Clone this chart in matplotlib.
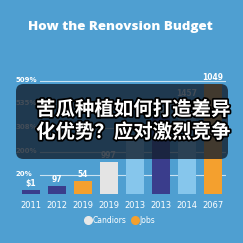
import matplotlib
matplotlib.use("Agg")
import matplotlib.pyplot as plt
from matplotlib.patches import FancyBboxPatch
from matplotlib.lines import Line2D
import matplotlib.patheffects as pe

# ---- data ----
categories = ["2011", "2012", "2019", "2019", "2013", "2013", "2014", "2067"]
values = [4, 8, 13, 32, 60, 77, 94, 110]
value_labels = ["$1", "97", "54", "997", "", "62", "1457", "1049"]
bar_colors = ["#3a3d8c", "#3a3d8c", "#f4a02e", "#e4e4e4", "#86c6ec", "#3a3d8c", "#86c6ec", "#f4a02e"]
grid_values = [19, 42, 66, 90, 113]
grid_labels = ["20%", "200%", "308%", "535%", "509%"]
legend_labels = ["Candiors", "Jobs"]
legend_colors = ["#e8e8e8", "#f4a02e"]
title = "How the Renovsion Budget"
overlay_text = "苦瓜种植如何打造差异\n化优势？应对激烈竞争"

BG = "#4f9fd1"
W = H = 243
fig = plt.figure(figsize=(W / 100, H / 100), dpi=100, facecolor=BG)

ax = fig.add_axes([18 / W, 49 / H, 208 / W, 130 / H])
ax.set_facecolor(BG)
ax.set_xlim(-0.5, 7.5)
ax.set_ylim(0, 130)
for s in ax.spines.values():
    s.set_visible(False)
ax.set_xticks([])
ax.set_yticks([])

# gridlines with labels
x_grid_start = (40 - 18) / 208
for gv, gl in zip(grid_values, grid_labels):
    ax.axhline(gv, xmin=x_grid_start, xmax=1.0, color="white", lw=0.8, alpha=0.7, zorder=1)
    ax.text(-2 / 208, gv + 1, gl, transform=ax.get_yaxis_transform(), color="white",
            fontsize=5, ha="left", va="center", fontweight="bold", zorder=3)

xs = list(range(len(categories)))
ax.bar(xs, values, width=0.69, color=bar_colors, zorder=2)
for x, v, lab in zip(xs, values, value_labels):
    if lab:
        ax.text(x, v + 2, lab, ha="center", va="bottom", color="white", fontsize=5.5,
                fontweight="bold", zorder=3, clip_on=False)

# x labels
for x, c in zip(xs, categories):
    ax.text(x, -11, c, ha="center", va="center", color="white", fontsize=6, clip_on=False)

# legend
handles = [Line2D([0], [0], marker="o", linestyle="none", markersize=5.5,
                  markerfacecolor=col, markeredgecolor=col) for col in legend_colors]
fig.legend(handles, legend_labels, loc="center", bbox_to_anchor=(120 / W, 1 - 220 / H),
           ncol=2, frameon=False, fontsize=5.5, labelcolor="white",
           handletextpad=0.1, columnspacing=0.6, handlelength=1.0)

# title
fig.text(120 / W, 1 - 27 / H, title, ha="center", va="center", color="white",
         fontsize=9.6, fontweight="heavy", family="Open Sans")

# overlay
box = FancyBboxPatch((16 / W, 1 - 159 / H), 212 / W, 75 / H,
                     boxstyle="round,pad=0,rounding_size=0.03",
                     transform=fig.transFigure, facecolor="#14202e", alpha=0.8,
                     edgecolor="none", zorder=10)
fig.patches.append(box)
fig.text(36 / W, 1 - 121 / H, overlay_text, ha="left", va="center", color="white",
         fontsize=14, fontweight="bold", family=["Noto Sans CJK SC", "DejaVu Sans"],
         linespacing=1.2, zorder=11,
         path_effects=[pe.withStroke(linewidth=2.5, foreground="black")])

fig.savefig("out.png", dpi=100, facecolor=BG)
